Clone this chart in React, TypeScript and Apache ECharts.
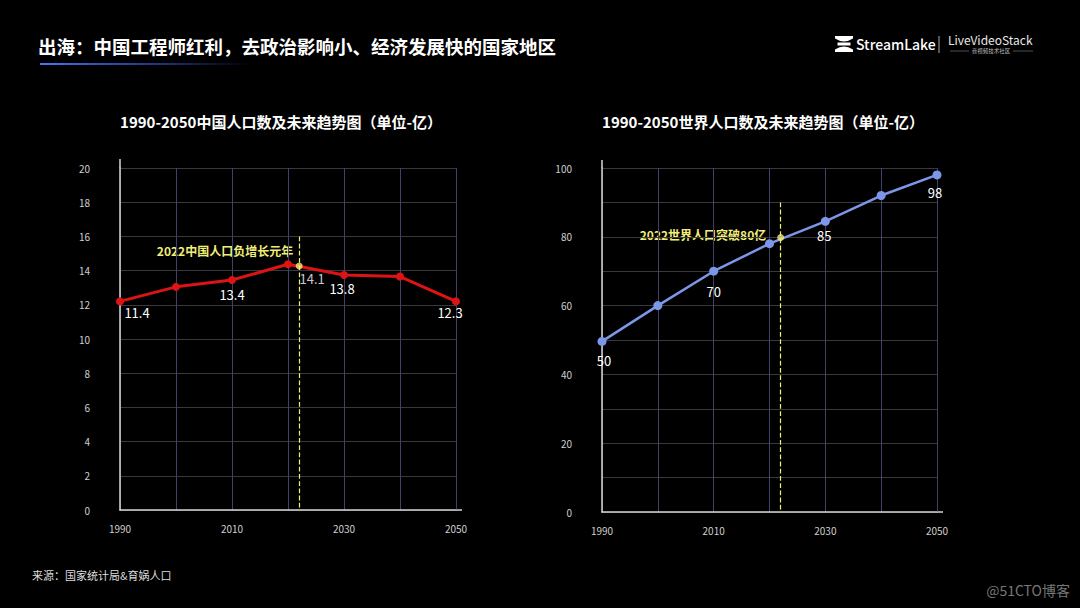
import React, { useEffect, useRef } from "react";
import * as echarts from "echarts";

// ---------- data ----------
const years = [1990, 2000, 2010, 2020, 2030, 2040, 2050];
const xTickLabels = [1990, 2010, 2030, 2050];
const markerYear = 2022;

const chinaPop = [12.2, 13.05, 13.45, 14.37, 13.74, 13.65, 12.2];
const chinaLabels = ["11.4", "", "13.4", "", "13.8", "", "12.3"];
const china2022 = 14.27;
const china2022Label = "14.1";
const chinaMarkTop = 16;
const chinaNote = "2022中国人口负增长元年";

const worldPop = [49.6, 60, 70, 78, 84.5, 92, 98];
const worldLabels = ["50", "", "70", "", "85", "", "98"];
const world2022 = 79.8;
const worldMarkTop = 90;
const worldNote = "2022世界人口突破80亿";

const mainTitle = "出海：中国工程师红利，去政治影响小、经济发展快的国家地区";
const chinaTitle = "1990-2050中国人口数及未来趋势图（单位-亿）";
const worldTitle = "1990-2050世界人口数及未来趋势图（单位-亿）";
const sourceText = "来源：国家统计局&育娲人口";
const watermark = "@51CTO博客";

// ---------- styles ----------
const FONT = '"Noto Sans CJK SC", "Noto Sans", sans-serif';
const RED = "#dc1414";
const BLUE = "#7d97e8";
const YELLOW = "#f2ee78";
const chinaLabelOffsets: number[][] = [[17, 11], [0, 0], [0, 14], [0, 0], [-2, 13], [0, 0], [-6, 11]];
const worldLabelOffsets: number[][] = [[2, 19], [0, 0], [0, 20], [0, 0], [-1, 14], [0, 0], [-2, 18]];

const xAxisCfg = (gridIndex: number) => ({
  type: "value",
  gridIndex,
  min: 1990,
  max: 2050,
  interval: 10,
  axisLine: { show: true, lineStyle: { color: "#d6d6d6", width: 1.5 } },
  axisTick: { show: false },
  splitLine: { show: true, lineStyle: { color: "#3f4168", width: 1 } },
  axisLabel: {
    color: "#cfcfcf",
    fontSize: 10,
    fontFamily: FONT,
    margin: 13,
    showMinLabel: true,
    showMaxLabel: true,
    formatter: (v: number) => (xTickLabels.includes(v) ? String(v) : ""),
  },
});

const yAxisCfg = (gridIndex: number, max: number, interval: number, labelStep: number) => ({
  type: "value",
  gridIndex,
  min: 0,
  max,
  interval,
  axisLine: { show: true, lineStyle: { color: "#d6d6d6", width: 1.5 } },
  axisTick: { show: false },
  splitLine: { show: true, lineStyle: { color: "#38383f", width: 1 } },
  axisLabel: {
    color: "#cfcfcf",
    fontSize: 10,
    fontFamily: FONT,
    margin: 30,
    formatter: (v: number) => (v % labelStep === 0 ? String(v) : ""),
  },
});

const txt = (text: string, x: number, y: number, size: number, color: string, weight = "normal", align = "left") => ({
  type: "text",
  x,
  y,
  silent: true,
  style: {
    text,
    fill: color,
    fontSize: size,
    fontWeight: weight,
    fontFamily: FONT,
    textAlign: align,
    textVerticalAlign: "middle",
  },
});

export default function App() {
  const ref = useRef<HTMLDivElement>(null);

  useEffect(() => {
    document.body.style.margin = "0";
    document.body.style.background = "#000";
    echarts.graphic.registerShape(
      "slLogo",
      echarts.graphic.extendPath(
        "M0 0 H18 V2.6 Q9 8.5 0 2.6 Z M2.5 6.6 H15.5 V9.4 H2.5 Z M0 16 H18 V13.4 Q9 7.5 0 13.4 Z",
        {}
      )
    );
    const chart = echarts.init(ref.current!, null, { renderer: "svg" });

    const pointLabel = { color: "#ffffff", fontSize: 13, fontFamily: FONT };

    const option = {
      animation: false,
      backgroundColor: "#000000",
      grid: [
        { left: 120, right: 624, top: 168, bottom: 98 },
        { left: 602, right: 143, top: 168, bottom: 96 },
      ],
      xAxis: [xAxisCfg(0), xAxisCfg(1)],
      yAxis: [yAxisCfg(0, 20, 2, 2), yAxisCfg(1, 100, 10, 20)],
      series: [
        {
          type: "line",
          xAxisIndex: 0,
          yAxisIndex: 0,
          symbol: "circle",
          symbolSize: 8,
          z: 3,
          lineStyle: { color: RED, width: 3 },
          itemStyle: { color: RED },
          data: years.map((y, i) => ({
            value: [y, chinaPop[i]],
            label: {
              show: !!chinaLabels[i],
              formatter: chinaLabels[i],
              position: "inside",
              offset: chinaLabelOffsets[i],
              ...pointLabel,
            },
          })),
          markLine: {
            silent: true,
            symbol: ["none", "none"],
            label: { show: false },
            lineStyle: { color: YELLOW, type: "dashed", width: 1.2 },
            data: [[{ coord: [markerYear, chinaMarkTop] }, { coord: [markerYear, 0] }]],
          },
        },
        {
          type: "scatter",
          xAxisIndex: 0,
          yAxisIndex: 0,
          symbolSize: 7,
          z: 4,
          itemStyle: { color: YELLOW },
          data: [
            {
              value: [markerYear, china2022],
              label: { show: true, formatter: china2022Label, position: "inside", offset: [13, 13], ...pointLabel },
            },
          ],
        },
        {
          type: "line",
          xAxisIndex: 1,
          yAxisIndex: 1,
          symbol: "circle",
          symbolSize: 9,
          z: 3,
          lineStyle: { color: BLUE, width: 2.5 },
          itemStyle: { color: BLUE },
          data: years.map((y, i) => ({
            value: [y, worldPop[i]],
            label: {
              show: !!worldLabels[i],
              formatter: worldLabels[i],
              position: "inside",
              offset: worldLabelOffsets[i],
              ...pointLabel,
            },
          })),
          markLine: {
            silent: true,
            symbol: ["none", "none"],
            label: { show: false },
            lineStyle: { color: YELLOW, type: "dashed", width: 1.2 },
            data: [[{ coord: [markerYear, worldMarkTop] }, { coord: [markerYear, 0] }]],
          },
        },
        {
          type: "scatter",
          xAxisIndex: 1,
          yAxisIndex: 1,
          symbolSize: 7,
          z: 4,
          itemStyle: { color: YELLOW },
          data: [{ value: [markerYear, world2022] }],
        },
      ],
      graphic: [
        txt(mainTitle, 38, 46, 18.5, "#ffffff", "bold"),
        {
          type: "rect",
          silent: true,
          shape: { x: 40, y: 63, width: 215, height: 2 },
          style: {
            fill: new echarts.graphic.LinearGradient(0, 0, 1, 0, [
              { offset: 0, color: "rgba(70,120,240,1)" },
              { offset: 0.6, color: "rgba(50,80,200,0.6)" },
              { offset: 1, color: "rgba(40,60,160,0)" },
            ]),
          },
        },
        // logo
        { type: "slLogo", x: 835, y: 36, scaleX: 1, scaleY: 1, silent: true, style: { fill: "#ffffff" } },
        txt("StreamLake", 856, 44, 14, "#ffffff", "500"),
        { type: "line", silent: true, shape: { x1: 939, y1: 36, x2: 939, y2: 53 }, style: { stroke: "#aaaaaa", lineWidth: 1 } },
        txt("LiveVideoStack", 948, 39.5, 12, "#e8e8e8"),
        txt("音视频技术社区", 991, 51, 5.5, "#bbbbbb", "normal", "center"),
        { type: "line", silent: true, shape: { x1: 950, y1: 51, x2: 969, y2: 51 }, style: { stroke: "#888888", lineWidth: 0.6 } },
        { type: "line", silent: true, shape: { x1: 1013, y1: 51, x2: 1033, y2: 51 }, style: { stroke: "#888888", lineWidth: 0.6 } },
        // chart titles
        txt(chinaTitle, 281, 121, 15, "#ffffff", "bold", "center"),
        txt(worldTitle, 763, 121, 15, "#ffffff", "bold", "center"),
        // notes
        txt(chinaNote, 225, 250, 12, YELLOW, "bold", "center"),
        txt(worldNote, 703, 234, 12, YELLOW, "bold", "center"),
        // axis line extensions
        { type: "line", silent: true, shape: { x1: 120, y1: 159, x2: 120, y2: 168 }, style: { stroke: "#d6d6d6", lineWidth: 1.5 } },
        { type: "line", silent: true, shape: { x1: 456, y1: 510, x2: 462, y2: 510 }, style: { stroke: "#d6d6d6", lineWidth: 1.5 } },
        { type: "line", silent: true, shape: { x1: 602, y1: 160, x2: 602, y2: 168 }, style: { stroke: "#d6d6d6", lineWidth: 1.5 } },
        { type: "line", silent: true, shape: { x1: 937, y1: 512, x2: 943, y2: 512 }, style: { stroke: "#d6d6d6", lineWidth: 1.5 } },
        // footer
        txt(sourceText, 32, 575, 11, "#dddddd"),
        txt(watermark, 1070, 590, 14, "#777777", "normal", "right"),
      ],
    };

    chart.setOption(option as any);
    return () => chart.dispose();
  }, []);

  return (
    <div
      ref={ref}
      style={{ position: "fixed", left: 0, top: 0, width: 1080, height: 608, background: "#000" }}
    />
  );
}
